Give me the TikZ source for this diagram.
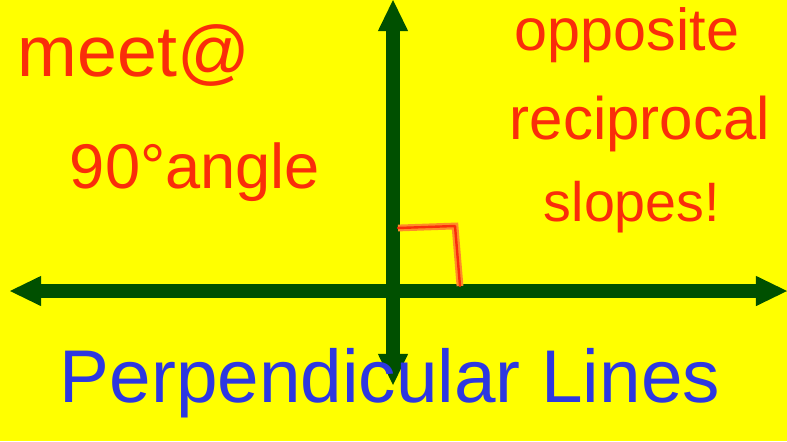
\documentclass[tikz,border=0pt]{standalone}
\usepackage{fontspec}
\setmainfont{Liberation Sans}
\usepackage{graphicx}
\usetikzlibrary{arrows.meta}
\definecolor{board}{RGB}{255,255,0}
\definecolor{axisgreen}{RGB}{0,80,0}
\definecolor{inkred}{RGB}{250,45,10}
\definecolor{inkglow}{RGB}{255,140,40}
\definecolor{inkblue}{RGB}{45,55,225}

\begin{document}
\begin{tikzpicture}[
  x=0.025cm, y=-0.025cm,
  axis/.style={axisgreen, line width=0.35cm,
    {Triangle[length=0.78cm, width=0.76cm, line width=0pt]}-{Triangle[length=0.78cm, width=0.76cm, line width=0pt]}},
  note/.style={inkred, inner sep=0pt},
  title/.style={inkblue, inner sep=0pt},
  corner/.style={inkred, line width=0.06cm, line cap=round, line join=round,
    preaction={draw=inkglow, line width=0.17cm}},
]
% Board
\useasboundingbox (0,0) rectangle (787,441);
\clip (0,0) rectangle (787,441);
\fill[board] (0,0) rectangle (787,441);

% Axes
\coordinate (top) at (393,0);
\coordinate (bottom) at (393,385);
\coordinate (left) at (10,291);
\coordinate (right) at (787,291);
\draw[axis] (bottom) -- (top);
\draw[axis] (left) -- (right);

% Right angle mark
\coordinate (c1) at (398,228);
\coordinate (c2) at (455,226);
\coordinate (c3) at (460,286);
\draw[corner] (c1) -- (c2) -- (c3);

% Notes on the left
\node[note] (meet) at (134,55) {\resizebox{5.8cm}{!}{meet@}};
\node[note] (angle) at (195,172) {\resizebox{6.25cm}{!}{90°angle}};

% Notes on the right
\node[note] (opp) at (627,35) {\resizebox{5.6cm}{!}{opposite}};
\node[note] (recip) at (640,124) {\resizebox{6.5cm}{!}{reciprocal}};
\node[note] (slopes) at (632,207) {\resizebox{4.4cm}{!}{slopes!}};

% Title
\node[title] (name) at (390,383) {\resizebox{16.5cm}{!}{Perpendicular Lines}};
\end{tikzpicture}
\end{document}
